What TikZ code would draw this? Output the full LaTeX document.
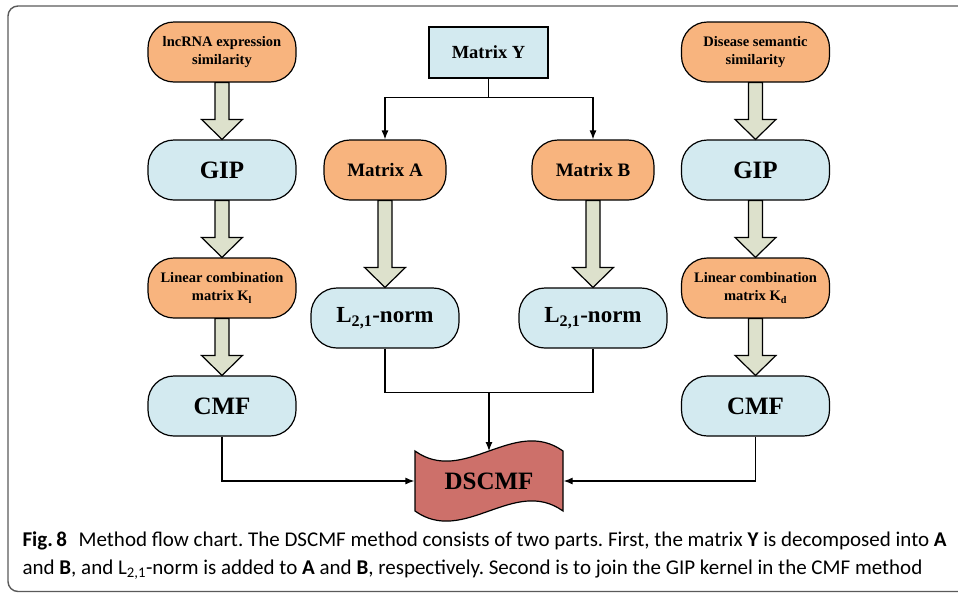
\documentclass[tikz,border=0pt]{standalone}
\usepackage{fontspec}
\setmainfont{Liberation Serif}
\newfontfamily\capfont{Carlito}
\usetikzlibrary{arrows.meta,calc}

\definecolor{pillorange}{RGB}{248,180,126}
\definecolor{pillblue}{RGB}{211,234,240}
\definecolor{fatgreen}{RGB}{221,225,204}
\definecolor{wavered}{RGB}{205,112,106}
\definecolor{framegray}{RGB}{90,90,90}

% thick block arrow from the bottom of #1 to the top of #2
\newcommand{\fatarrow}[2]{%
  \draw[fat] ($(#1.south)+(-7,0)$) -- ($(#2.north)+(-7,-20)$) -- ($(#2.north)+(-20.5,-20)$)
    -- (#2.north) -- ($(#2.north)+(20.5,-20)$) -- ($(#2.north)+(7,-20)$)
    -- ($(#1.south)+(7,0)$) -- cycle;}

\begin{document}
\begin{tikzpicture}[x=1pt,y=-1pt,>={Latex[length=9pt,width=7pt]},node distance=118pt,
                    line width=1.2pt]
  \tikzstyle{pill}=[draw=black,rounded corners=26pt,minimum width=148pt,minimum height=60pt,
                    align=center,inner sep=0pt]
  \tikzstyle{src}=[pill,fill=pillorange,font=\fontsize{14.5}{18}\selectfont\bfseries]
  \tikzstyle{calcbox}=[pill,fill=pillblue,font=\fontsize{25}{30}\selectfont\bfseries]
  \tikzstyle{ybox}=[draw=black,fill=pillblue,minimum width=119pt,minimum height=51pt,
                    inner sep=0pt,font=\fontsize{18.5}{22}\selectfont\bfseries]
  \tikzstyle{fat}=[draw=black,fill=fatgreen,line width=1.2pt]
  \tikzstyle{wavebox}=[draw=black,fill=wavered,line width=1.2pt]
  \tikzstyle{captext}=[anchor=base west,inner sep=0pt,
                       font=\capfont\mdseries\frenchspacing\fontsize{21}{25}\selectfont]

  \useasboundingbox (0,0) rectangle (958,592);
  \clip (0,0) rectangle (958,592);
  \draw[framegray,line width=1.4pt,rounded corners=10pt] (975,6) -| (8,591.5) -- (975,591.5);

  % left column
  \node[src] (lnc) at (222,52) {lncRNA expression\\similarity};
  \node[calcbox] (gipl) [below of=lnc] {GIP};
  \node[src] (kl) [below of=gipl] {Linear combination\\matrix K\textsubscript{l}};
  \node[calcbox] (cmfl) [below of=kl] {CMF};

  % right column
  \node[src] (dis) at (755.5,52) {Disease semantic\\similarity};
  \node[calcbox] (gipd) [below of=dis] {GIP};
  \node[src] (kd) [below of=gipd] {Linear combination\\matrix K\textsubscript{d}};
  \node[calcbox] (cmfd) [below of=kd] {CMF};

  % middle
  \node[ybox] (Y) at (488.5,52.5) {Matrix Y};
  \node[src,minimum width=122pt,font=\fontsize{19}{22}\selectfont\bfseries] (A) at (385,170) {Matrix A};
  \node[src,minimum width=122pt,font=\fontsize{19}{22}\selectfont\bfseries] (B) [right of=A,node distance=208pt] {Matrix B};
  \node[calcbox,font=\fontsize{23}{28}\selectfont\bfseries] (La) [below of=A,node distance=148pt] {L\textsubscript{2,1}-norm};
  \node[calcbox,font=\fontsize{23}{28}\selectfont\bfseries] (Lb) [below of=B,node distance=148pt] {L\textsubscript{2,1}-norm};

  \coordinate (dc) at (489,481);
  \draw[wavebox] ($(dc)+(-74,-30)$) .. controls +(49,35) and +(-49,-35) .. ++(148,0)
    -- ++(0,60) .. controls +(-49,-35) and +(49,35) .. ++(-148,0) -- cycle;
  \node[minimum width=148pt,minimum height=60pt,inner sep=0pt,
        font=\fontsize{25}{30}\selectfont\bfseries] (dscmf) at (dc) {DSCMF};
  \coordinate (dtop) at ($(dc)+(0,-30)$);

  \fatarrow{lnc}{gipl}
  \fatarrow{gipl}{kl}
  \fatarrow{kl}{cmfl}
  \fatarrow{dis}{gipd}
  \fatarrow{gipd}{kd}
  \fatarrow{kd}{cmfd}
  \fatarrow{A}{La}
  \fatarrow{B}{Lb}

  \coordinate (ysplit) at ($(Y.south)+(0,19)$);
  \draw (Y.south) -- (ysplit);
  \draw[->] (ysplit) -| (A.north);
  \draw[->] (ysplit) -| (B.north);

  \coordinate (lmerge) at ($(La.south)!0.5!(Lb.south)+(0,44)$);
  \draw (La.south) |- (lmerge) -| (Lb.south);
  \draw[->] (lmerge) -- (dtop);
  \draw[->] (cmfl.south) |- (dscmf.west);
  \draw[->] (cmfd.south) |- (dscmf.east);

  \node[captext] (cap1) at (22,546) {\textbf{Fig.\,8}\hspace{0.55em}Method flow chart. The DSCMF method consists of two parts. First, the matrix \textbf{Y} is decomposed into \textbf{A}};
  \node[captext] (cap2) at (22,574) {and \textbf{B}, and L\textsubscript{2,1}-norm is added to \textbf{A} and \textbf{B}, respectively. Second is to join the GIP kernel in the CMF method};
\end{tikzpicture}
\end{document}
